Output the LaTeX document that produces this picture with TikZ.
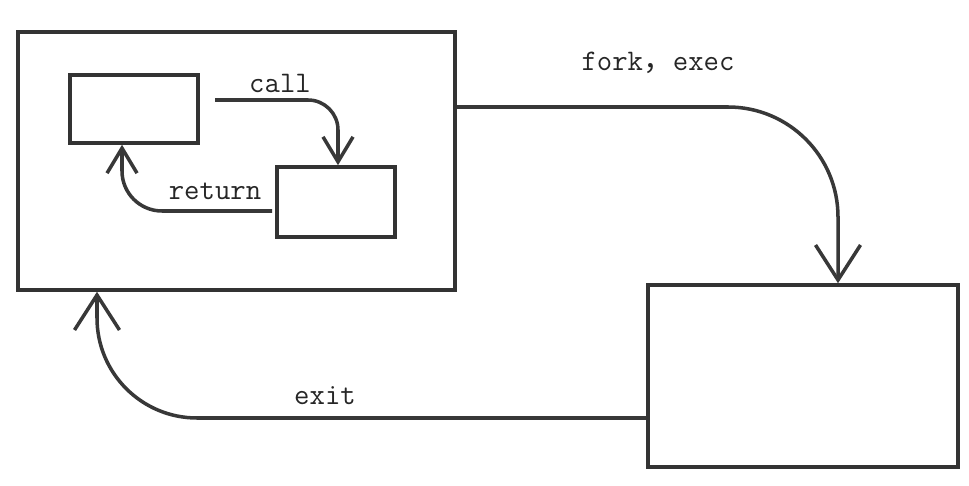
\documentclass[tikz,border=0pt]{standalone}
\usepackage{fontspec}
\usepackage{tikz}
\usetikzlibrary{arrows.meta, positioning, calc}
\newfontfamily\cjk{Noto Sans CJK SC}

\begin{document}
\begin{tikzpicture}[
    box/.style={draw=black!80, line width=2pt, inner sep=0pt},
    flow/.style={draw=black!78, line width=2pt, -{Straight Barb[length=0.5cm, width=0.6cm]}},
    bigflow/.style={flow, -{Straight Barb[length=0.7cm, width=0.9cm]}},
    lbl/.style={font=\ttfamily\fontsize{17}{20}\selectfont, text=black!85}
]
    \useasboundingbox (0,0) rectangle (19.38,9.70);

    % 进程
    \node[box, minimum width=8.74cm, minimum height=5.16cm] (proc) at (4.73,6.48) {};
    \node[box, minimum width=2.56cm, minimum height=1.36cm] (A) at (2.68,7.52) {};
    \node[box, minimum width=2.36cm, minimum height=1.40cm] (B) at (6.72,5.66) {};
    \node[box, minimum width=6.20cm, minimum height=3.64cm] (child) at (16.06,2.18) {};

    % 调用与返回
    \coordinate (callstart) at (4.30,7.70);
    \coordinate (retstart) at (5.44,5.48);
    \draw[flow, rounded corners=0.6cm] (callstart) -| ([xshift=0.04cm]B.north);
    \draw[flow, rounded corners=0.8cm] (retstart) -| ([xshift=-0.24cm]A.south);
    \node[lbl] (call) at (5.60,8.04) {call};
    \node[lbl] (ret) at (4.30,5.88) {return};

    % 创建与退出
    \draw[bigflow, rounded corners=2.2cm] ([yshift=1.08cm]proc.east) -| ([xshift=0.7cm]child.north);
    \draw[bigflow, rounded corners=2cm] ([yshift=-0.84cm]child.west) -| ([xshift=-2.79cm]proc.south);
    \node[lbl] (fork) at (13.16,8.44) {fork{\cjk ，}exec};
    \node[lbl] (exit) at (6.50,1.78) {exit};
\end{tikzpicture}
\end{document}
